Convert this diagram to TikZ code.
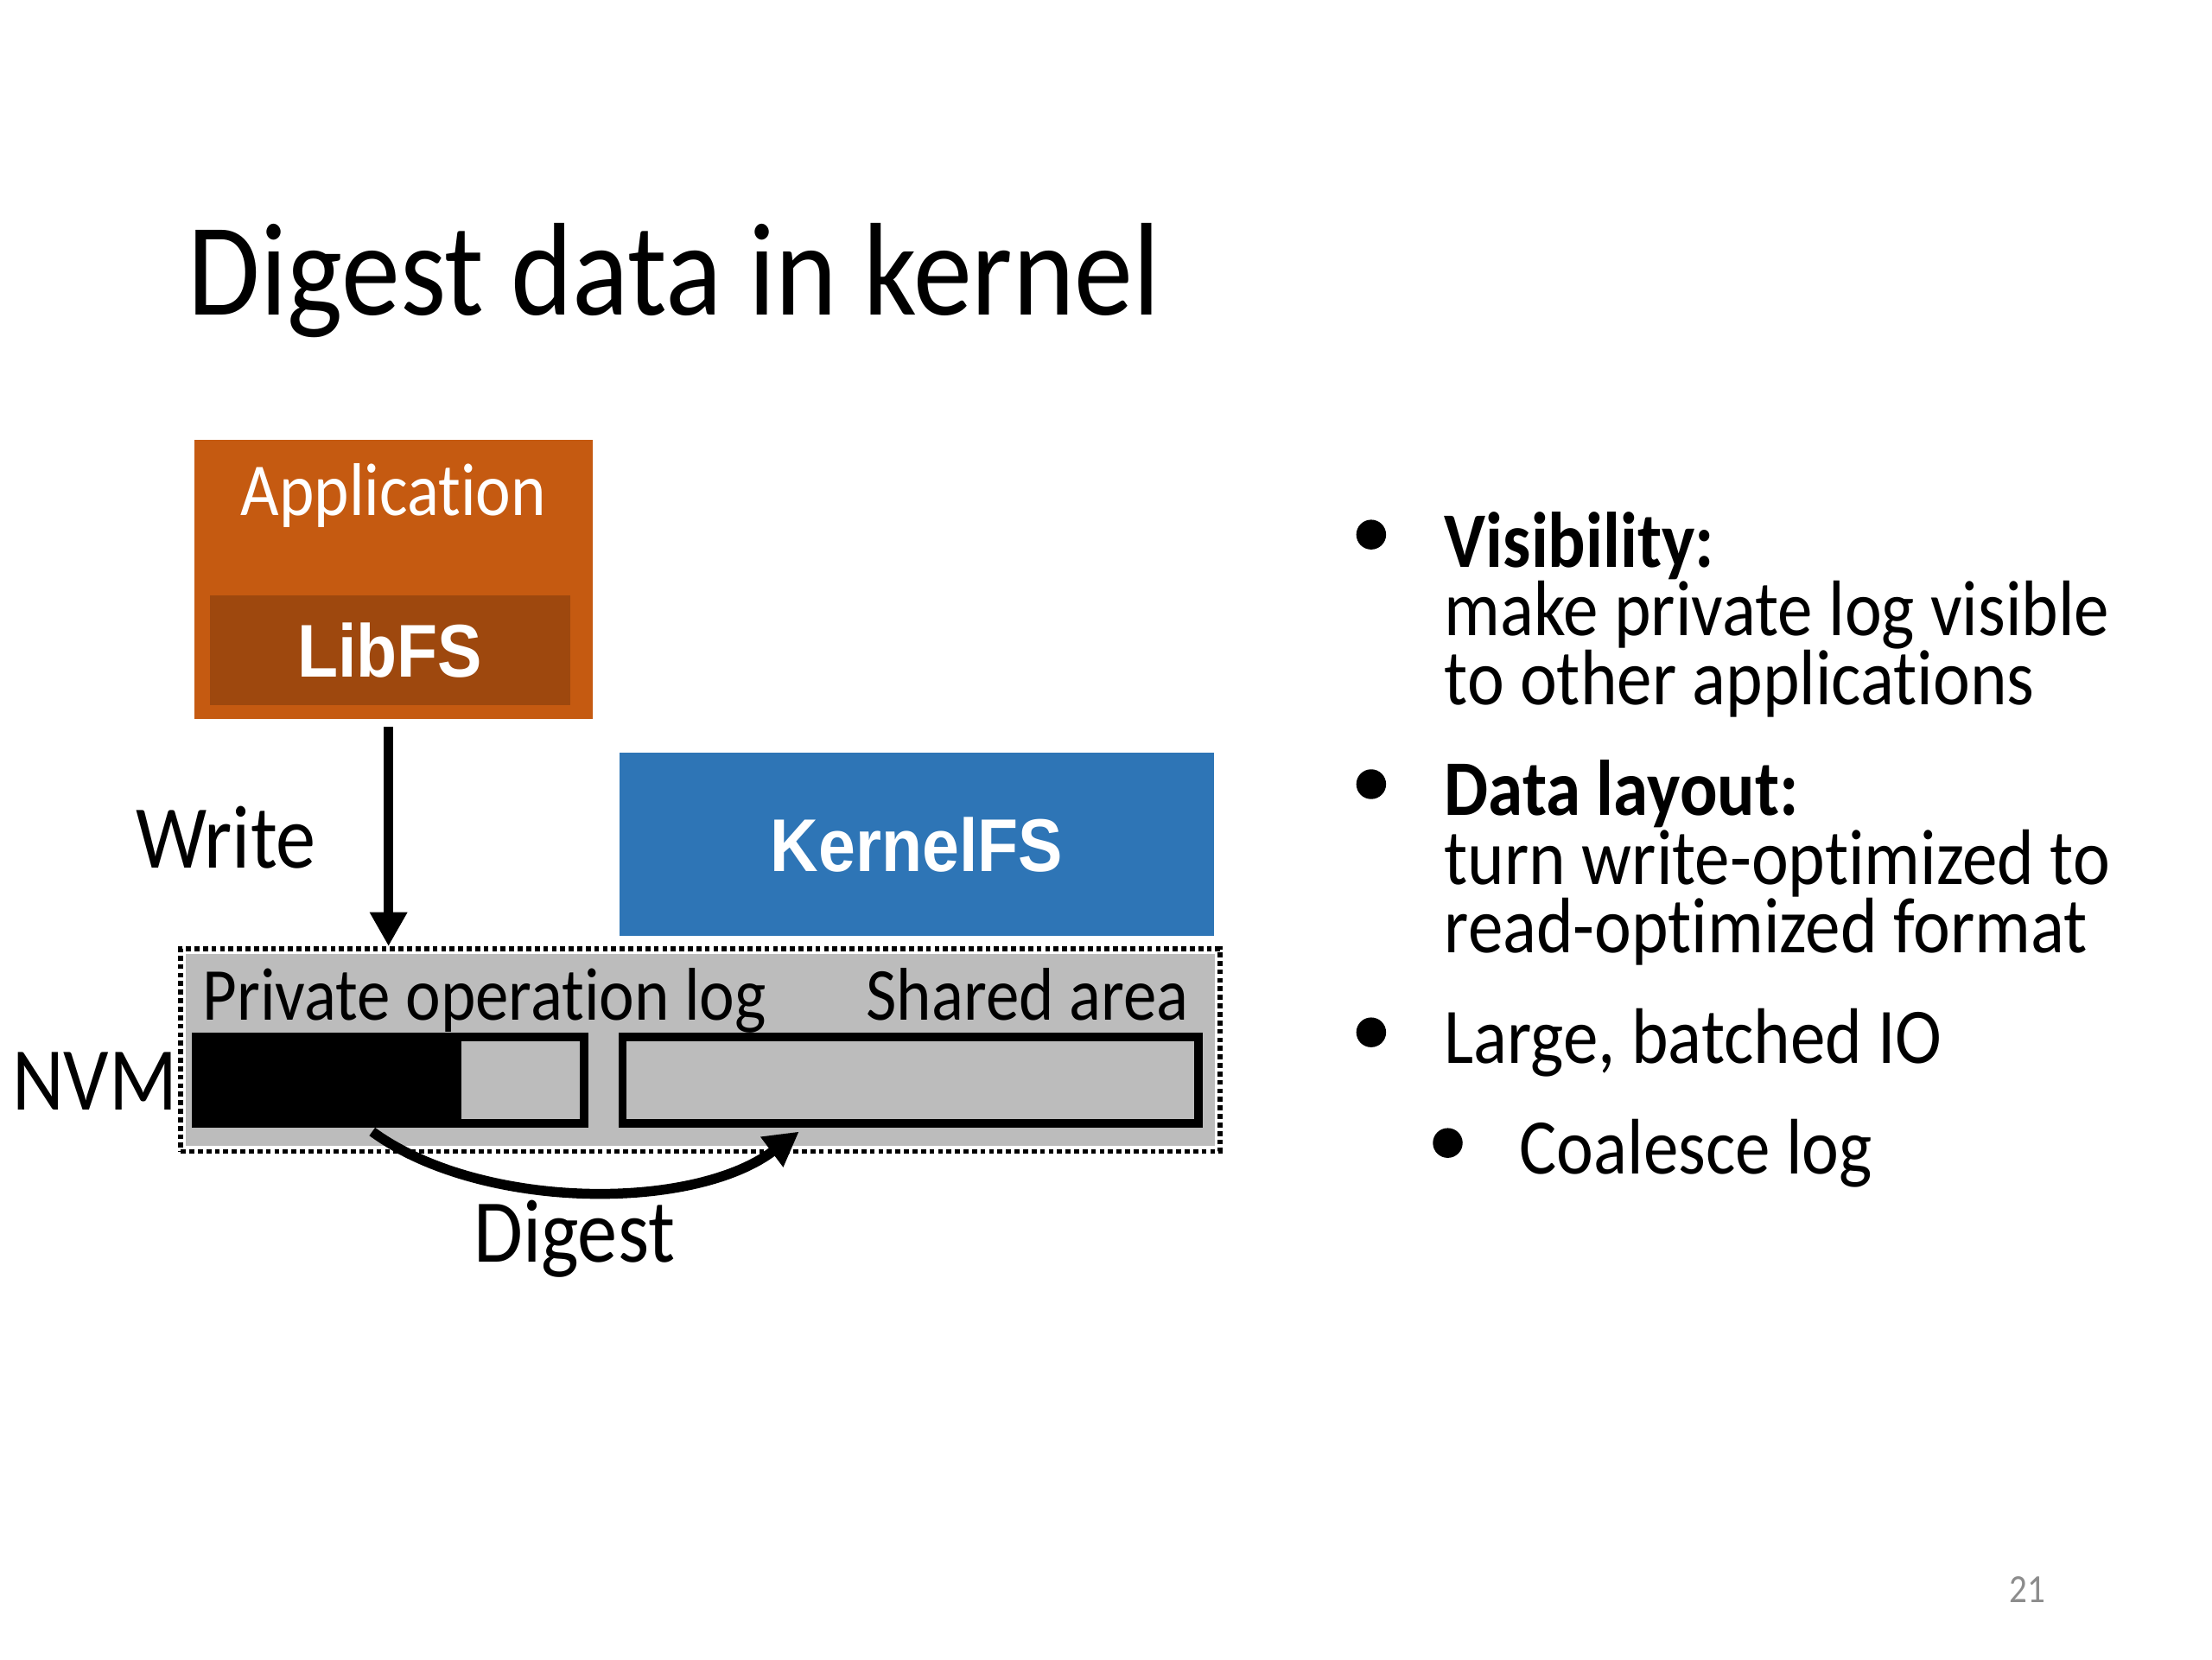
\documentclass[tikz,border=0pt]{standalone}
\usepackage{fontspec}
\setmainfont{Carlito}[FakeStretch=0.89, Ligatures=NoCommon, Contextuals=NoAlternate]
\newfontfamily\arialfont{Liberation Sans}[FakeStretch=0.89]
\usetikzlibrary{arrows.meta, calc, positioning}
\definecolor{apporange}{HTML}{C55A11}
\definecolor{libbrown}{HTML}{9E480E}
\definecolor{kernelblue}{HTML}{2E75B6}
\definecolor{nvmgray}{HTML}{BCBCBC}
\definecolor{pagegray}{HTML}{8C8C8C}
\tikzstyle{appbox} = [rectangle, fill=apporange, minimum width=2.81cm, minimum height=1.97cm, inner sep=0pt]
\tikzstyle{libbox} = [rectangle, fill=libbrown, minimum width=2.54cm, minimum height=0.77cm, inner sep=0pt, text=white, font=\arialfont\bfseries\fontsize{15}{18}\selectfont]
\tikzstyle{kernelbox} = [rectangle, fill=kernelblue, minimum width=4.19cm, minimum height=1.29cm, inner sep=0pt, text=white, font=\arialfont\bfseries\fontsize{15}{18}\selectfont]
\tikzstyle{nvmarea} = [rectangle, fill=nvmgray, minimum width=7.26cm, minimum height=1.35cm, inner sep=0pt]
\tikzstyle{nvmframe} = [rectangle, draw=black, line width=0.035cm, dash pattern=on 0.035cm off 0.025cm, minimum width=7.33cm, minimum height=1.43cm, inner sep=0pt]
\tikzstyle{bar} = [rectangle, draw=black, line width=0.06cm, fill=nvmgray, minimum height=0.61cm, inner sep=0pt]
\tikzstyle{label} = [inner sep=0pt, font=\fontsize{18}{21}\selectfont]
\tikzstyle{smalllabel} = [inner sep=0pt, font=\fontsize{15}{18}\selectfont]
\tikzstyle{bullet} = [circle, fill=black, minimum size=0.21cm, inner sep=0pt]
\tikzstyle{point} = [inner sep=0pt, align=left, anchor=base west, font=\fontsize{15.8}{13.8}\selectfont]
\tikzstyle{arrow} = [line width=0.07cm, -{Triangle[width=0.25cm, length=0.24cm]}]

\begin{document}
\begin{tikzpicture}
		\fill[white] (0,0) rectangle (15.6,-11.7);
		\useasboundingbox (0,0) rectangle (15.6,-11.7);
		
		\node (Title) [anchor=base west, inner sep=0pt, font=\fontsize{26.5}{30}\selectfont] at (1.32,-2.22) {Digest data in kernel};
		
		\node (App) [appbox] at (2.775,-4.085) {};
		\node (AppText) [smalllabel, anchor=base, text=white] at ($(App.north)+(0,-0.54)$) {Application};
		\node (LibFS) [libbox] at (2.75,-4.585) {LibFS};
		\node (KernelFS) [kernelbox] at (6.465,-5.955) {KernelFS};
		
		\node (NVM) [nvmarea] at (4.94,-7.405) {};
		\node (NVMFrame) [nvmframe] at (NVM.center) {};
		\node (LogBar) [bar, minimum width=2.74cm] at (2.75,-7.615) {};
		\fill[black] (LogBar.north west) rectangle ($(LogBar.south west)+(1.905,0)$);
		\node (SharedBar) [bar, minimum width=4.06cm] at (6.42,-7.615) {};
		
		\node (LogText) [smalllabel, anchor=base west] at ($(NVM.north west)+(0.12,-0.47)$) {Private operation log};
		\node (SharedText) [smalllabel, anchor=base east] at ($(NVM.north east)+(-0.19,-0.47)$) {Shared area};
		\node (NVMText) [label, anchor=base west] at (0.08,-7.83) {NVM};
		\node (WriteText) [label, anchor=base west] at (0.95,-6.12) {Write};
		\node (DigestText) [label, anchor=base] at (4.05,-8.90) {Digest};
		
		\coordinate (WriteTop) at ($(App.south)+(-0.035,-0.05)$);
		\draw [arrow] (WriteTop) -- (WriteTop |- NVMFrame.north);
		\draw [arrow] ($(LogBar.south west)+(1.275,-0.03)$) .. controls +(0.75,-0.55) and +(-0.76,-0.57) .. ($(SharedBar.south west)+(1.275,-0.03)$);
		
		\node (Bullet01) [bullet] at (9.67,-3.77) {};
		\node (Point01) [point] at (10.18,-4.97) {\textbf{Visibility:}\\make private log visible\\to other applications};
		\node (Bullet02) [bullet] at (9.67,-5.53) {};
		\node (Point02) [point] at (10.18,-6.72) {\textbf{Data layout:}\\turn write-optimized to\\read-optimized format};
		\node (Bullet03) [bullet] at (9.67,-7.28) {};
		\node (Point03) [point] at (10.18,-7.50) {Large, batched IO};
		\node (Bullet04) [bullet] at (10.21,-8.06) {};
		\node (Point04) [point] at (10.71,-8.28) {Coalesce log};
		
		\node (Page) [anchor=base east, inner sep=0pt, text=pagegray, font=\fontsize{8}{10}\selectfont] at (14.43,-11.30) {21};
\end{tikzpicture}
\end{document}
